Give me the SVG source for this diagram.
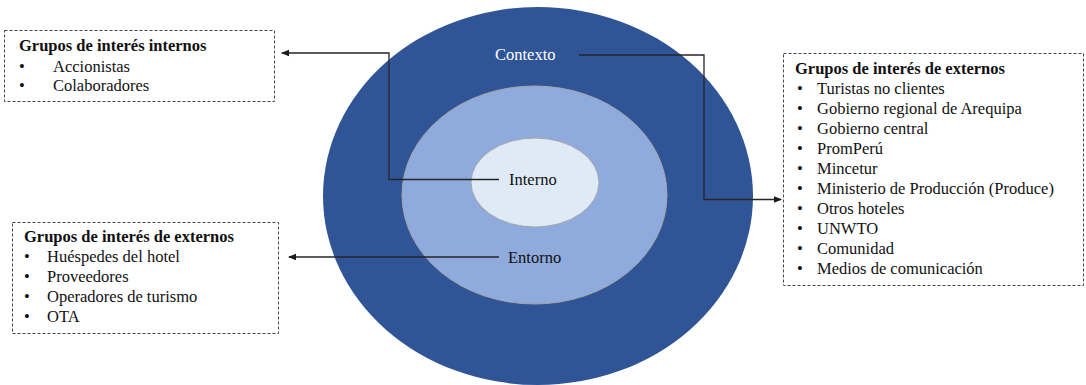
<svg xmlns="http://www.w3.org/2000/svg" width="1086" height="385" viewBox="0 0 1086 385">
<defs>
<marker id="arr" markerWidth="8" markerHeight="8" refX="7" refY="4" orient="auto" markerUnits="userSpaceOnUse">
<path d="M0,0.8 L8,4 L0,7.2 Z" fill="#1a1a1a"/>
</marker>
<style>
text{font-family:"Liberation Serif","Times New Roman",serif;font-size:16.5px;fill:#111}
.b{font-weight:bold}
.w{fill:#fff}
.box{fill:#fff;stroke:#444;stroke-width:1;stroke-dasharray:3 2}
.con{fill:none;stroke:#262626;stroke-width:1.3}
</style>
</defs>
<rect width="1086" height="385" fill="#fff"/>
<g id="contexto">
<ellipse cx="538" cy="196" rx="215" ry="189" fill="#2F5597"/>
<text class="w" x="495" y="60">Contexto</text>
</g>
<g id="entorno">
<ellipse cx="534.5" cy="195" rx="132.5" ry="109" fill="#8FAADC" stroke="#A6A6A6" stroke-width="1"/>
<text x="508" y="263">Entorno</text>
</g>
<g id="interno">
<ellipse cx="535" cy="182.5" rx="64" ry="44.5" fill="#DEEBF7" stroke="#A6A6A6" stroke-width="1"/>
<text x="509" y="185">Interno</text>
</g>
<g id="connectors">
<polyline class="con" points="499,179.5 389,179.5 389,53 282,53" marker-end="url(#arr)"/>
<polyline class="con" points="499,257 289,257" marker-end="url(#arr)"/>
<polyline class="con" points="579,55 704,55 704,199.5 781,199.5" marker-end="url(#arr)"/>
</g>
<g id="internos">
<rect class="box" x="4.5" y="30.5" width="270" height="71"/>
<text class="b" x="19" y="51">Grupos de interés internos</text>
<text x="19" y="71.5">•</text><text x="53" y="71.5">Accionistas</text>
<text x="19" y="91">•</text><text x="53" y="91">Colaboradores</text>
</g>
<g id="externos-izq">
<rect class="box" x="12.5" y="222.5" width="266" height="111"/>
<text class="b" x="24" y="242">Grupos de interés de externos</text>
<text x="24" y="262">•</text><text x="47" y="262">Huéspedes del hotel</text>
<text x="24" y="282">•</text><text x="47" y="282">Proveedores</text>
<text x="24" y="302">•</text><text x="47" y="302">Operadores de turismo</text>
<text x="24" y="322">•</text><text x="47" y="322">OTA</text>
</g>
<g id="externos-der">
<rect class="box" x="783.5" y="53.5" width="300" height="232"/>
<text class="b" x="795" y="74">Grupos de interés de externos</text>
<text x="797" y="94">•</text><text x="817" y="94">Turistas no clientes</text>
<text x="797" y="114">•</text><text x="817" y="114">Gobierno regional de Arequipa</text>
<text x="797" y="134">•</text><text x="817" y="134">Gobierno central</text>
<text x="797" y="154">•</text><text x="817" y="154">PromPerú</text>
<text x="797" y="174">•</text><text x="817" y="174">Mincetur</text>
<text x="797" y="194">•</text><text x="817" y="194">Ministerio de Producción (Produce)</text>
<text x="797" y="214">•</text><text x="817" y="214">Otros hoteles</text>
<text x="797" y="234">•</text><text x="817" y="234">UNWTO</text>
<text x="797" y="254">•</text><text x="817" y="254">Comunidad</text>
<text x="797" y="274">•</text><text x="817" y="274">Medios de comunicación</text>
</g>
</svg>
